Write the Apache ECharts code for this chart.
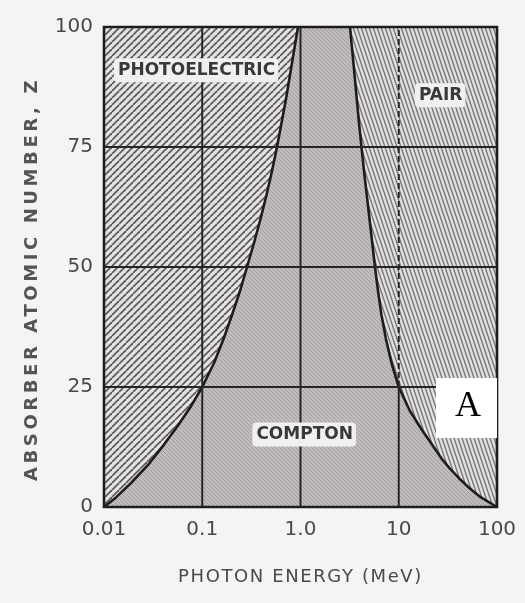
<!DOCTYPE html>
<html>
<head>
<meta charset="utf-8">
<script src="https://cdn.jsdelivr.net/npm/echarts@6/dist/echarts.min.js"></script>
<style>
html,body{margin:0;padding:0;background:#f4f4f2;}
#c{width:525px;height:603px;}
</style>
</head>
<body>
<div id="c"></div>
<script>
// ---- data ----
const xTickLabels = ['0.01', '0.1', '1.0', '10', '100'];
const yTicks = [0, 25, 50, 75, 100];
// photoelectric / Compton boundary (photon energy in MeV, atomic number Z)
const photoE = [0.01, 0.01325, 0.01883, 0.02871, 0.04081, 0.05665, 0.07686, 0.1, 0.1317, 0.1646, 0.2008, 0.2423, 0.2855, 0.3363, 0.3917, 0.4508, 0.5128, 0.5765, 0.6408, 0.7119, 0.7818, 0.8587, 0.9432];
const photoZ = [0, 2, 5, 9, 13, 17, 21, 25, 30, 35, 40, 45, 50, 55, 60, 65, 70, 75, 80, 85, 90, 95, 100];
// Compton / pair boundary
const pairE = [100, 68.7, 51.9, 41.0, 33.2, 27.5, 21.8, 17.3, 13.0, 10, 8.44, 7.41, 6.67, 6.15, 5.73, 5.04, 4.43, 3.94, 3.55, 3.19];
const pairZ = [0, 2, 4, 6, 8, 10, 13, 16, 20, 25, 30, 35, 40, 45, 50, 60, 70, 80, 90, 100];
// grid lines
const xGrid = [0.1, 1, 10];
const xGridDashFrom = [null, null, 25];
const yGrid = [25, 50, 75];
// region labels
const labelNames = ['PHOTOELECTRIC', 'PAIR', 'COMPTON'];
const labelE = [0.0865, 26.4, 1.09];
const labelZ = [91, 85.8, 15.1];
const xName = 'PHOTON ENERGY (MeV)';
const yName = 'ABSORBER ATOMIC NUMBER, Z';

// letter spacing for the hand-lettered axis titles only
const spacing = {};
spacing[xName] = '1.6px';
spacing[yName] = '3.6px';
const origFill = CanvasRenderingContext2D.prototype.fillText;
function resetSpacing(ctx) {
  ctx.letterSpacing = '0px';
  const f = ctx.font;
  ctx.font = '10px serif';
  ctx.font = f;
}
CanvasRenderingContext2D.prototype.fillText = function (t, x, y, w) {
  const ls = spacing[t];
  if (ls && 'letterSpacing' in this) {
    this.letterSpacing = ls;
    const f = this.font;
    this.font = '10px serif';
    this.font = f;
    const r = w === undefined ? origFill.call(this, t, x, y) : origFill.call(this, t, x, y, w);
    resetSpacing(this);
    return r;
  }
  if ('letterSpacing' in this && this.letterSpacing !== '0px') resetSpacing(this);
  return w === undefined ? origFill.call(this, t, x, y) : origFill.call(this, t, x, y, w);
};

// ---- patterns ----
function makePattern(w, h, bg, fg, lw, lines) {
  const c = document.createElement('canvas');
  c.width = w; c.height = h;
  const ctx = c.getContext('2d');
  ctx.fillStyle = bg; ctx.fillRect(0, 0, w, h);
  ctx.strokeStyle = fg; ctx.lineWidth = lw;
  lines(ctx, w, h);
  return { image: c, repeat: 'repeat' };
}
const photoPat = makePattern(7, 7, '#e4e2e2', '#5e5c5c', 1.8, (ctx, w, h) => {
  for (let k = -w; k <= w; k += w) { ctx.beginPath(); ctx.moveTo(k, h); ctx.lineTo(k + w, 0); ctx.stroke(); }
});
const pairPat = makePattern(4, 12, '#e2e0e0', '#7a7878', 1.4, (ctx, w, h) => {
  for (let k = -w; k <= w; k += w) { ctx.beginPath(); ctx.moveTo(k, 0); ctx.lineTo(k + w, h); ctx.stroke(); }
});
const comptonPat = makePattern(4, 4, '#c0bcbe', '#a4a0a2', 1, (ctx, w, h) => {
  for (let k = -w; k <= w; k += w) { ctx.beginPath(); ctx.moveTo(k, 0); ctx.lineTo(k + w, h); ctx.stroke(); }
});

const chart = echarts.init(document.getElementById('c'), null, { renderer: 'canvas' });
const X0 = 0.01, X1 = 100, Y0 = 0, Y1 = 100;

function regionItem(params, api) {
  const i = params.dataIndex;
  if (i === 0) {
    const pts = [api.coord([X0, Y0]), api.coord([X1, Y0]), api.coord([X1, Y1]), api.coord([X0, Y1])];
    return { type: 'polygon', shape: { points: pts }, style: { fill: comptonPat } };
  }
  const E = i === 1 ? photoE : pairE;
  const Z = i === 1 ? photoZ : pairZ;
  const line = [];
  for (let k = 0; k < E.length; k++) line.push(api.coord([E[k], Z[k]]));
  const poly = line.slice();
  let fill;
  if (i === 1) { poly.push(api.coord([X0, Y1])); fill = photoPat; }
  else { poly.push(api.coord([X1, Y1])); fill = pairPat; }
  return {
    type: 'group', children: [
      { type: 'polygon', shape: { points: poly }, style: { fill: fill } },
      { type: 'polyline', shape: { points: line }, style: { stroke: '#1e1c1c', lineWidth: 2.6, fill: null, lineJoin: 'round' } }
    ]
  };
}

function gridItem(params, api) {
  const children = [];
  xGrid.forEach((v, k) => {
    const from = xGridDashFrom[k];
    if (from === null) {
      const a = api.coord([v, Y0]), b = api.coord([v, Y1]);
      children.push({ type: 'line', shape: { x1: a[0], y1: a[1], x2: b[0], y2: b[1] },
        style: { stroke: '#262424', lineWidth: 2 } });
    } else {
      const a = api.coord([v, Y0]), m = api.coord([v, from]), b = api.coord([v, Y1]);
      children.push({ type: 'line', shape: { x1: a[0], y1: a[1], x2: m[0], y2: m[1] },
        style: { stroke: '#262424', lineWidth: 2 } });
      children.push({ type: 'line', shape: { x1: m[0], y1: m[1], x2: b[0], y2: b[1] },
        style: { stroke: '#262424', lineWidth: 2, lineDash: [6, 3] } });
    }
  });
  yGrid.forEach(v => {
    const a = api.coord([X0, v]), b = api.coord([X1, v]);
    children.push({ type: 'line', shape: { x1: a[0], y1: a[1], x2: b[0], y2: b[1] },
      style: { stroke: '#262424', lineWidth: 2.2 } });
  });
  const p0 = api.coord([X0, Y1]), p1 = api.coord([X1, Y0]);
  children.push({ type: 'rect', shape: { x: p0[0], y: p0[1], width: p1[0] - p0[0], height: p1[1] - p0[1] },
    style: { stroke: '#1e1c1c', lineWidth: 2.6, fill: null } });
  return { type: 'group', children: children };
}

function labelItem(params, api) {
  const i = params.dataIndex;
  const p = api.coord([labelE[i], labelZ[i]]);
  return {
    type: 'text', x: p[0], y: p[1],
    style: {
      text: labelNames[i], fill: '#3a3838', font: 'bold 17px "DejaVu Sans"',
      align: 'center', verticalAlign: 'middle',
      backgroundColor: '#f1f0f0', padding: [4, 3, 3, 4], borderRadius: 4
    }
  };
}

chart.setOption({
  backgroundColor: '#f4f4f2',
  animation: false,
  grid: { left: 104, right: 28, top: 27, bottom: 96 },
  xAxis: {
    type: 'log', logBase: 10, min: X0, max: X1,
    name: xName, nameLocation: 'middle', nameGap: 61,
    nameTextStyle: { fontFamily: 'DejaVu Sans', fontSize: 18, color: '#4a4848' },
    axisLine: { show: false }, axisTick: { show: false }, splitLine: { show: false },
    axisLabel: {
      margin: 13, fontFamily: 'DejaVu Sans', fontSize: 20, color: '#4a4848',
      formatter: v => xTickLabels[Math.round(Math.log10(v)) + 2]
    }
  },
  yAxis: {
    type: 'value', min: Y0, max: Y1, interval: 25,
    name: yName, nameLocation: 'middle', nameGap: 63, nameRotate: 90,
    nameTextStyle: { fontFamily: 'DejaVu Sans', fontSize: 18, fontWeight: 'bold', color: '#555353', padding: [0, 24, 0, 0] },
    axisLine: { show: false }, axisTick: { show: false }, splitLine: { show: false },
    axisLabel: {
      margin: 11, fontFamily: 'DejaVu Sans', fontSize: 20, color: '#4a4848',
      formatter: v => String(yTicks[yTicks.indexOf(v)])
    }
  },
  series: [
    { type: 'custom', z: 1, silent: true, renderItem: regionItem, data: [[1, 50], [1, 50], [1, 50]] },
    { type: 'custom', z: 3, silent: true, renderItem: gridItem, data: [[1, 50]] },
    { type: 'custom', z: 5, silent: true, renderItem: labelItem, data: labelE.map((e, i) => [e, labelZ[i]]) }
  ],
  graphic: [
    { type: 'rect', left: 436, top: 378, shape: { width: 61, height: 60 }, style: { fill: '#ffffff' }, z: 10 },
    { type: 'text', left: 455, top: 389, style: { text: 'A', font: '36px "Liberation Serif"', fill: '#000000' }, z: 11 }
  ]
});
</script>
</body>
</html>
